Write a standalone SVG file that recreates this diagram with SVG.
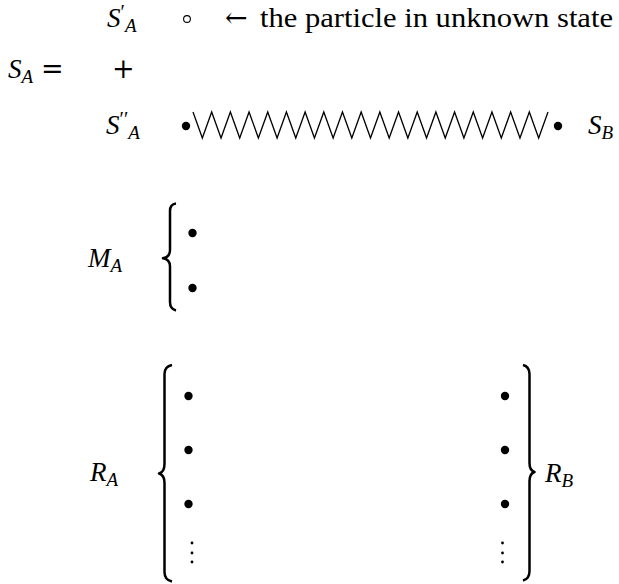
<svg xmlns="http://www.w3.org/2000/svg" width="619" height="584" viewBox="0 0 619 584" font-family="Liberation Serif, Times New Roman, DejaVu Serif, serif">
<style>
.m { font-style: italic; font-size: 27px; }
.sub { font-style: italic; font-size: 19px; }
.pr { font-style: normal; font-size: 20px; }
.rm { font-size: 27px; }
.op { font-size: 27px; }
.dot { fill: #000; }
.vdot { fill: #000; }
.brace { fill: none; stroke: #000; stroke-width: 2.5; stroke-linejoin: round; }
.spring { fill: none; stroke: #000; stroke-width: 1.3; stroke-linejoin: miter; }
</style>
<rect width="619" height="584" fill="#fff"/>

<g id="SA-eq">
  <text class="m" x="8" y="78" font-family="Liberation Serif, serif">S<tspan class="sub" dy="5">A</tspan></text>
  <text class="op" x="41" y="78" font-family="DejaVu Serif, serif">=</text>
  <text class="op" x="112" y="78" font-family="DejaVu Serif, serif">+</text>
</g>

<g id="SA-prime">
  <text class="m" x="107" y="27" font-family="Liberation Serif, serif">S<tspan class="pr" dy="-8">′</tspan><tspan class="sub" dy="13">A</tspan></text>
  <circle cx="187" cy="19" r="3.4" fill="none" stroke="#000" stroke-width="1.1"/>
  <text class="op" x="225" y="27" font-family="DejaVu Serif, serif" font-size="30">←</text>
  <text class="rm" x="260" y="27" font-family="Liberation Serif, serif" textLength="353" lengthAdjust="spacingAndGlyphs">the particle in unknown state</text>
</g>

<g id="SA-dprime">
  <text class="m" x="106" y="134" font-family="Liberation Serif, serif">S<tspan class="pr" dy="-8">′′</tspan><tspan class="sub" dy="13">A</tspan></text>
  <circle class="dot" cx="186" cy="126" r="4.2"/>
</g>

<g id="SB">
  <circle class="dot" cx="558" cy="126" r="4.2"/>
  <text class="m" x="588" y="134" font-family="Liberation Serif, serif">S<tspan class="sub" dy="5">B</tspan></text>
</g>

<g id="connectors">
  <polyline class="spring" points="193,112 202.34,138 211.68,112 221.03,138 230.37,112 239.71,138 249.05,112 258.39,138 267.74,112 277.08,138 286.42,112 295.76,138 305.11,112 314.45,138 323.79,112 333.13,138 342.47,112 351.82,138 361.16,112 370.5,138 379.84,112 389.18,138 398.53,112 407.87,138 417.21,112 426.55,138 435.89,112 445.24,138 454.58,112 463.92,138 473.26,112 482.61,138 491.95,112 501.29,138 510.63,112 519.97,138 529.32,112 538.66,138 548,112"/>
</g>

<g id="MA">
  <text class="m" x="88" y="267" font-family="Liberation Serif, serif">M<tspan class="sub" dy="5">A</tspan></text>
  <path class="brace" d="M 176,203.5 C 172,204 170,206.5 170,211 L 170,250 C 170,254.5 167.5,257.5 163,258.3 C 167.5,259 170,262 170,266.5 L 170,302 C 170,306.5 172,309.5 176,310.5"/>
  <circle class="dot" cx="192.5" cy="233" r="4.2"/>
  <circle class="dot" cx="192.5" cy="288" r="4.2"/>
</g>

<g id="RA">
  <text class="m" x="90" y="481" font-family="Liberation Serif, serif">R<tspan class="sub" dy="5">A</tspan></text>
  <path class="brace" d="M 172,365 C 167,366 164.5,369 164.5,374 L 164.5,464 C 164.5,469 162.5,472.5 159,473.5 C 162.5,474.5 164.5,478 164.5,483 L 164.5,572 C 164.5,577 167,580.5 172,581.5"/>
  <circle class="dot" cx="188.5" cy="396" r="4.2"/>
  <circle class="dot" cx="188.5" cy="450" r="4.2"/>
  <circle class="dot" cx="188.5" cy="504" r="4.2"/>
  <circle class="vdot" cx="192" cy="543" r="1.4"/>
  <circle class="vdot" cx="192" cy="553" r="1.4"/>
  <circle class="vdot" cx="192" cy="562" r="1.4"/>
</g>

<g id="RB">
  <circle class="dot" cx="505" cy="396" r="4.2"/>
  <circle class="dot" cx="505" cy="450" r="4.2"/>
  <circle class="dot" cx="505" cy="504" r="4.2"/>
  <circle class="vdot" cx="502.5" cy="543" r="1.4"/>
  <circle class="vdot" cx="502.5" cy="553" r="1.4"/>
  <circle class="vdot" cx="502.5" cy="562" r="1.4"/>
  <path class="brace" d="M 523,365 C 527,366 529.5,369 529.5,374 L 529.5,463 C 529.5,468 531.5,471 534.5,472 C 531.5,473 529.5,476 529.5,481 L 529.5,571 C 529.5,576 527,579.5 523,580.5"/>
  <text class="m" x="545" y="482" font-family="Liberation Serif, serif">R<tspan class="sub" dy="5">B</tspan></text>
</g>
</svg>
